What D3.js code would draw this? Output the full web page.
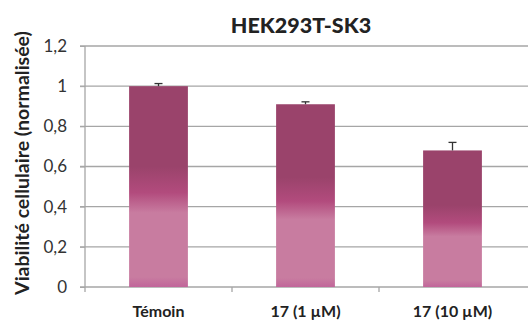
<!DOCTYPE html>
<html><head><meta charset="utf-8">
<script src="https://cdn.jsdelivr.net/npm/d3@7"></script>
<style>body{margin:0;background:#fff}svg{display:block}</style>
</head><body>
<script>
const categories = ["Témoin", "17 (1 µM)", "17 (10 µM)"];
const values = [1.0, 0.91, 0.68];
const errors = [0.013, 0.012, 0.04];
const yTicks = [0, 0.2, 0.4, 0.6, 0.8, 1.0, 1.2];
const title = "HEK293T-SK3";
const yLabel = "Viabilité cellulaire (normalisée)";

const W = 528, H = 321;
const m = {left: 85, right: 2, top: 46, bottom: 34};
const svg = d3.select("body").append("svg").attr("width", W).attr("height", H);
const font = "Lato, 'Open Sans', sans-serif";

const x = d3.scaleBand().domain(categories).range([m.left, W - m.right]).paddingInner(0.6).paddingOuter(0.3);
const xb = d3.scaleBand().domain(categories).range([m.left, W - m.right]);
const y = d3.scaleLinear().domain([0, 1.2]).range([H - m.bottom, m.top]);

const defs = svg.append("defs");
const g = defs.append("linearGradient").attr("id", "grad").attr("x1", 0).attr("y1", 0).attr("x2", 0).attr("y2", 1);
[[0, "#9a436b"], [0.40, "#9a436b"], [0.53, "#b24b7d"], [0.63, "#c87ca0"], [0.95, "#c87ca0"], [1, "#c1659a"]]
  .forEach(([o, c]) => g.append("stop").attr("offset", o).attr("stop-color", c));

// gridlines
svg.append("g").selectAll("line").data(yTicks).join("line")
  .attr("x1", m.left - 5).attr("x2", W).attr("y1", d => y(d)).attr("y2", d => y(d))
  .attr("stroke", "#a6a6a6").attr("stroke-width", 1.3);

// y axis
const ya = svg.append("g").attr("transform", `translate(${m.left},0)`)
  .call(d3.axisLeft(y).tickValues(yTicks).tickSize(5).tickPadding(13)
    .tickFormat(d => d3.format(".1~f")(d).replace(".", ",")));
ya.select(".domain").remove();
ya.selectAll("line").attr("stroke", "#a6a6a6");
ya.selectAll("text").attr("font-family", font).attr("font-size", 17).attr("fill", "#333");
svg.append("line").attr("x1", m.left).attr("x2", m.left).attr("y1", y(1.2)).attr("y2", y(0) + 5)
  .attr("stroke", "#a6a6a6").attr("stroke-width", 1.3);

// x ticks at band boundaries
svg.append("g").selectAll("line").data(categories.slice(1)).join("line")
  .attr("x1", d => xb(d)).attr("x2", d => xb(d)).attr("y1", y(0)).attr("y2", y(0) + 5)
  .attr("stroke", "#a6a6a6").attr("stroke-width", 1.3);

// bars
svg.append("g").selectAll("rect").data(values).join("rect")
  .attr("x", (d, i) => x(categories[i])).attr("width", x.bandwidth())
  .attr("y", d => y(d)).attr("height", d => y(0) - y(d)).attr("fill", "url(#grad)");

// error bars
const eb = svg.append("g").attr("stroke", "#333").attr("stroke-width", 1.3);
values.forEach((v, i) => {
  const cx = x(categories[i]) + x.bandwidth() / 2;
  eb.append("line").attr("x1", cx).attr("x2", cx).attr("y1", y(v)).attr("y2", y(v + errors[i]));
  eb.append("line").attr("x1", cx - 4).attr("x2", cx + 4).attr("y1", y(v + errors[i])).attr("y2", y(v + errors[i]));
});

// x labels
svg.append("g").selectAll("text").data(categories).join("text")
  .attr("x", d => xb(d) + xb.bandwidth() / 2).attr("y", 317).attr("text-anchor", "middle")
  .attr("font-family", font).attr("font-weight", "bold").attr("font-size", 16).attr("fill", "#222")
  .text(d => d);

// title
svg.append("text").attr("x", 301).attr("y", 33).attr("text-anchor", "middle")
  .attr("font-family", font).attr("font-weight", "900").attr("font-size", 21.5).attr("fill", "#222").text(title);

// y label
svg.append("text").attr("transform", "translate(29,163) rotate(-90)").attr("text-anchor", "middle")
  .attr("font-family", font).attr("font-weight", "bold").attr("font-size", 19.5).attr("fill", "#222").text(yLabel);
</script>
</body></html>
